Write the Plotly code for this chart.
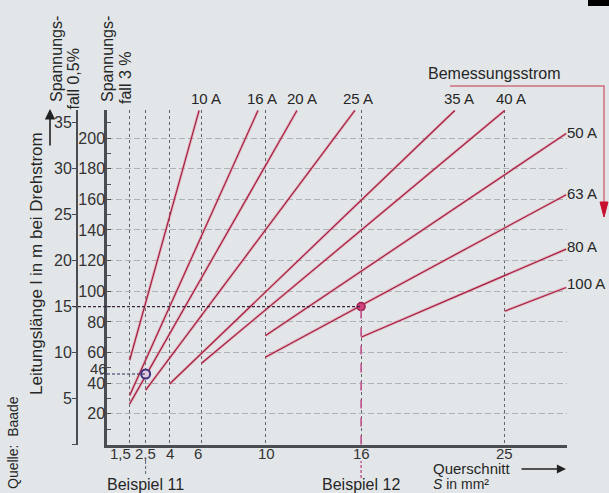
import plotly.graph_objects as go

# ---------------- data ----------------
cross_sections = [1.5, 2.5, 4, 6, 10, 16, 25]          # mm²
cross_labels = ["1,5", "2,5", "4", "6", "10", "16", "25"]
len_3pct_ticks = [20, 40, 60, 80, 100, 120, 140, 160, 180, 200]   # m, 3 % drop
len_05pct_ticks = [0, 5, 10, 15, 20, 25, 30, 35]                  # m, 0.5 % drop
len_05pct_text = ["", "5", "10", "15", "20", "25", "30", "35"]

currents = ["10 A", "16 A", "20 A", "25 A", "35 A", "40 A", "50 A", "63 A", "80 A", "100 A"]
start_S = [1.5, 1.5, 1.5, 2.5, 4, 6, 10, 10, 16, 25]
start_L = [55, 32, 26.5, 35.5, 39.5, 53, 71, 57, 70, 87]
end_S = [5.85, 9.54, 11.98, 15.61, 21.87, 25, 28.85, 28.85, 28.85, 28.85]
end_L = [218, 218, 218, 218, 218, 218, 203, 163, 127.5, 102.5]

example_names = ["Beispiel 11", "Beispiel 12"]
example_S = [2.5, 16]
example_L = [46, 90]

# ---------------- layout helpers ----------------
W, H = 609, 493
ML, MR, MT, MB = 70, 42, 110, 48
PW, PH = W - ML - MR, H - MT - MB


def px_x(p):
    return (p - ML) / PW


def px_y(q):
    return (H - MB - q) / PH


X_RANGE = [0.08, 28.9]
Y_RANGE = [-0.33, 218.3]
AX_COL = "#4a4d52"
TXT = "#262626"
FONT = "Liberation Sans, Arial, sans-serif"

fig = go.Figure()

# current lines (halo + core)
for i, name in enumerate(currents):
    xs = [start_S[i], end_S[i]]
    ys = [start_L[i], end_L[i]]
    fig.add_trace(go.Scatter(x=xs, y=ys, mode="lines", hoverinfo="skip",
                             line=dict(color="rgba(226,120,146,0.40)", width=3.0),
                             showlegend=False))
    fig.add_trace(go.Scatter(x=xs, y=ys, mode="lines", name=name,
                             line=dict(color="#a51d3e", width=1.2),
                             showlegend=False))

# example markers
fig.add_trace(go.Scatter(x=[example_S[0]], y=[example_L[0]], mode="markers",
                         marker=dict(size=9, color="#e3c9dc",
                                     line=dict(color="#3e3280", width=2)),
                         showlegend=False))
fig.add_trace(go.Scatter(x=[example_S[1]], y=[example_L[1]], mode="markers",
                         marker=dict(size=8, color="#d0427c",
                                     line=dict(color="#9a2052", width=1.5)),
                         showlegend=False))
# invisible trace on the 0.5 % axis (Beispiel 12: 15 m)
fig.add_trace(go.Scatter(x=[example_S[1]], y=[example_L[1] / 6], mode="markers",
                         yaxis="y2", marker=dict(opacity=0), showlegend=False,
                         hoverinfo="skip"))

shapes = []
# Beispiel 12 vertical (magenta) inside plot
shapes.append(dict(type="line", xref="x", yref="y", x0=example_S[1], x1=example_S[1],
                   y0=0, y1=example_L[1], line=dict(color="#c2508c", width=1.6, dash="dash")))
# below-axis extensions
shapes.append(dict(type="line", xref="x", yref="paper", x0=example_S[0], x1=example_S[0],
                   y0=px_y(474), y1=px_y(461), line=dict(color="#5a5f66", width=1, dash="3px,2px")))
shapes.append(dict(type="line", xref="x", yref="paper", x0=example_S[1], x1=example_S[1],
                   y0=px_y(478), y1=px_y(461), line=dict(color="#c2508c", width=1.4, dash="3px,2px")))
# horizontal example lines: inside part (data) + outside part (paper x)
ex_cols = ["#2d2d5e", "#3a2440"]
ex_left_px = [100, 73]
for k in range(2):
    shapes.append(dict(type="line", xref="x", yref="y", x0=X_RANGE[0], x1=example_S[k],
                       y0=example_L[k], y1=example_L[k],
                       line=dict(color=ex_cols[k], width=1.2, dash="3px,2px")))
    shapes.append(dict(type="line", xref="paper", yref="y", x0=px_x(ex_left_px[k]), x1=px_x(107),
                       y0=example_L[k], y1=example_L[k],
                       line=dict(color=ex_cols[k], width=1.2, dash="3px,2px")))
# Bemessungsstrom bracket
shapes.append(dict(type="path", xref="paper", yref="paper",
                   path=f"M {px_x(450)},{px_y(86)} L {px_x(604)},{px_y(86)} L {px_x(604)},{px_y(204)}",
                   line=dict(color="rgba(200,70,90,0.75)", width=1.5)))
shapes.append(dict(type="path", xref="paper", yref="paper",
                   path=f"M {px_x(600)},{px_y(202)} L {px_x(608)},{px_y(202)} L {px_x(604)},{px_y(217)} Z",
                   fillcolor="#c8102e", line=dict(color="#c8102e", width=1)))

ann = []
# x tick labels
x_shift = [-9, 0, 0, -3, 1, 0, 0]
for s, t, dx in zip(cross_sections, cross_labels, x_shift):
    ann.append(dict(x=s, y=px_y(453), xref="x", yref="paper", text=t, showarrow=False,
                    xanchor="center", yanchor="middle", borderpad=0,
                    xshift=dx, font=dict(size=15, color="#333")))
# current labels
lab_dx = [7, 4, 5, 3, 4, 6, -1, -1, -1, -1]
lab_dy = [12, 12, 12, 12, 12, 12, 1, 1, 3, 4]
for i, name in enumerate(currents):
    right = i >= 6
    ann.append(dict(x=end_S[i], y=end_L[i], xref="x", yref="y", text=name, showarrow=False,
                    xanchor="left" if right else "center", yanchor="middle",
                    xshift=lab_dx[i], yshift=lab_dy[i], font=dict(size=15, color=TXT)))
# 46 label
ann.append(dict(x=px_x(108), y=example_L[0], xref="paper", yref="y", text="46", showarrow=False,
                xanchor="right", yanchor="middle", yshift=6, borderpad=0,
                font=dict(size=15, color="#333")))
# axis headings (rotated)
for txt, cx, by in [("Spannungs-", 56, 104), ("fall 0,5%", 73, 112),
                    ("Spannungs-", 107, 104), ("fall 3 %", 125, 106)]:
    ann.append(dict(x=px_x(cx), y=px_y(by), xref="paper", yref="paper", text=txt,
                    textangle=-90, showarrow=False, xanchor="center", yanchor="bottom",
                    font=dict(size=16, color=TXT)))
ann.append(dict(x=px_x(36), y=px_y(264), xref="paper", yref="paper",
                text="Leitungslänge l in m bei Drehstrom", textangle=-90, showarrow=False,
                xanchor="center", yanchor="middle", font=dict(size=17, color=TXT)))
ann.append(dict(x=px_x(13), y=px_y(443), xref="paper", yref="paper",
                text="Quelle:\u00a0\u00a0Baade", textangle=-90, showarrow=False,
                xanchor="center", yanchor="middle", font=dict(size=14, color=TXT)))
ann.append(dict(x=px_x(494), y=px_y(73), xref="paper", yref="paper",
                text="Bemessungsstrom", showarrow=False, xanchor="center", yanchor="middle",
                font=dict(size=16, color=TXT)))
for k in range(2):
    ann.append(dict(x=example_S[k], y=px_y(484), xref="x", yref="paper",
                    text=example_names[k], showarrow=False, xanchor="center", yanchor="middle",
                    borderpad=0, font=dict(size=16, color=TXT)))
ann.append(dict(x=px_x(432), y=px_y(468), xref="paper", yref="paper", text="Querschnitt",
                showarrow=False, xanchor="left", yanchor="middle", borderpad=0,
                font=dict(size=15, color=TXT)))
ann.append(dict(x=px_x(432), y=px_y(484), xref="paper", yref="paper", text="<i>S</i> in mm²",
                showarrow=False, xanchor="left", yanchor="middle", borderpad=0,
                font=dict(size=14, color=TXT)))
# arrows
ann.append(dict(x=px_x(566), y=px_y(469), xref="paper", yref="paper", text="",
                showarrow=True, ax=-46, ay=0, arrowhead=2, arrowsize=1.3, arrowwidth=1.4,
                arrowcolor="#222"))
ann.append(dict(x=px_x(50), y=px_y(109), xref="paper", yref="paper", text="",
                showarrow=True, ax=0, ay=38, arrowhead=2, arrowsize=1.3, arrowwidth=1.6,
                arrowcolor="#222"))
# black corner block (as a filled annotation box)
ann.append(dict(x=px_x(609), y=px_y(0), xref="paper", yref="paper", text="\u00a0",
                showarrow=False, xanchor="right", yanchor="top", width=21, height=6,
                bgcolor="#000000", bordercolor="#000000", borderwidth=0, borderpad=0,
                font=dict(size=4, color="#000000")))

fig.update_layout(
    width=W, height=H,
    margin=dict(l=ML, r=MR, t=MT, b=MB, pad=0),
    paper_bgcolor="#e3e6e9", plot_bgcolor="#e3e6e9",
    font=dict(family=FONT, color=TXT),
    showlegend=False,
    shapes=shapes, annotations=ann,
    xaxis=dict(domain=[px_x(107), 1], range=X_RANGE, tickmode="array",
               tickvals=cross_sections, showticklabels=False, ticks="",
               showgrid=True, gridcolor="#5f646b", griddash="3px,3px", gridwidth=1,
               showline=True, linecolor=AX_COL, linewidth=3, zeroline=False,
               anchor="y", fixedrange=True),
    yaxis=dict(domain=[0, 1], range=Y_RANGE, tickmode="array", tickvals=len_3pct_ticks,
               ticks="inside", ticklen=4, tickcolor=AX_COL, ticklabelstandoff=-4,
               tickfont=dict(size=16, color="#333"),
               minor=dict(dtick=10, tick0=0, ticks="inside", ticklen=4, tickcolor=AX_COL,
                          showgrid=False),
               showline=True, linecolor=AX_COL, linewidth=2.5,
               showgrid=True, gridcolor="#aeb3b8", griddash="6px,3px", gridwidth=1,
               zeroline=False, anchor="x", fixedrange=True),
    yaxis2=dict(overlaying="y", anchor="free", position=px_x(77), side="left",
                range=[Y_RANGE[0] / 6, Y_RANGE[1] / 6], tickmode="array",
                tickvals=len_05pct_ticks, ticktext=len_05pct_text,
                ticks="outside", ticklen=4, tickcolor=AX_COL, ticklabelstandoff=-3,
                tickfont=dict(size=16, color="#333"),
                showline=True, linecolor=AX_COL, linewidth=2,
                showgrid=False, zeroline=False, fixedrange=True),
)

fig.write_html("out.html", config={"displayModeBar": False},
               post_script="document.body.style.margin='0';document.body.style.overflow='hidden';")
